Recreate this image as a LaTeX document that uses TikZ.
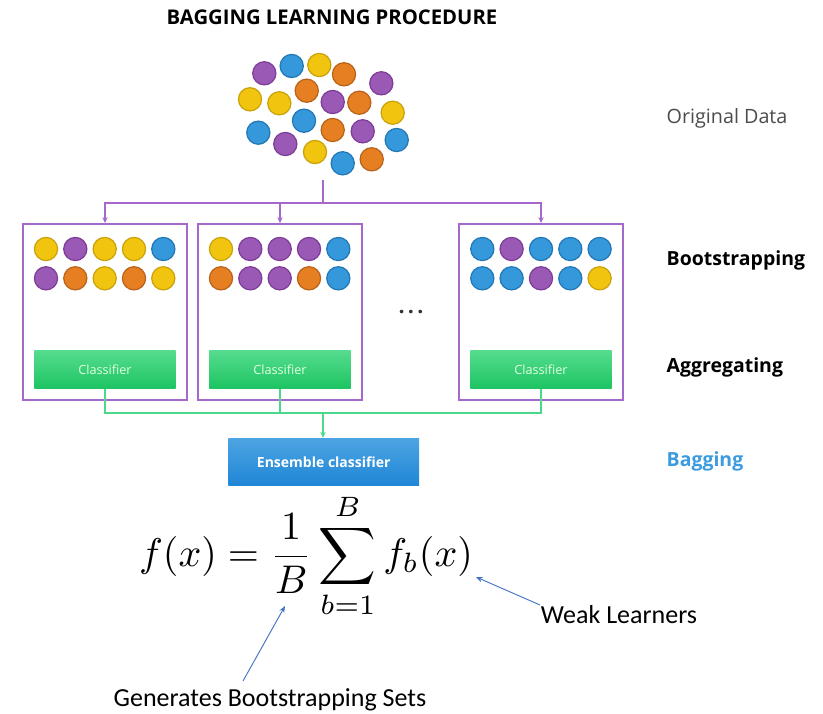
\documentclass[tikz,border=0pt]{standalone}
\usepackage{fontspec}
\setmainfont{Open Sans}
\newfontfamily\calib{Carlito}
\usetikzlibrary{arrows.meta}
\definecolor{yel}{HTML}{F1C40F}\definecolor{yeld}{HTML}{C9A20A}
\definecolor{pur}{HTML}{9B59B6}\definecolor{purd}{HTML}{7D3C98}
\definecolor{ora}{HTML}{E67E22}\definecolor{orad}{HTML}{B9621A}
\definecolor{blu}{HTML}{3498DB}\definecolor{blud}{HTML}{2277B5}
\definecolor{boxpur}{HTML}{A569CB}
\definecolor{lngreen}{HTML}{4CD98A}
\definecolor{grtop}{HTML}{55DC8E}
\definecolor{grbot}{HTML}{1EC462}
\definecolor{entop}{HTML}{4DA4E2}
\definecolor{enbot}{HTML}{1F86D6}
\definecolor{bagblue}{HTML}{3D9BE0}
\definecolor{annblue}{HTML}{4472C4}
\newcommand\ball[3]{\fill[#3,draw=#3d,line width=0.9pt] (#1,#2) circle[radius=11.6];}
\tikzset{
  bagbox/.style={draw=boxpur,line width=1.4pt,minimum width=122.5pt,minimum height=132pt,inner sep=0pt},
  clsbar/.style={top color=grtop,bottom color=grbot,
     minimum width=106pt,minimum height=28.2pt,inner sep=0pt,text=white!88!green,font=\fontsize{9.5}{11}\selectfont},
  ensbox/.style={top color=entop,bottom color=enbot,minimum width=143pt,minimum height=35.8pt,
     inner sep=0pt,text=white,font=\bfseries\fontsize{10.5}{12}\selectfont},
  purline/.style={draw=boxpur,line width=1.4pt},
  grnline/.style={draw=lngreen,line width=1.4pt},
  tip/.style={-{Stealth[length=4.5pt,width=4pt]}},
  rlabel/.style={anchor=west,font=\fontsize{14.8}{17}\selectfont},
  rbold/.style={anchor=west,font=\bfseries\fontsize{14.6}{17}\selectfont},
  ann/.style={draw=annblue,line width=0.7pt,-{Stealth[length=5pt,width=4pt]}},
  annlabel/.style={font=\calib\fontsize{19.5}{22}\selectfont}
}
\begin{document}
\begin{tikzpicture}[x=0.75pt,y=-0.75pt]
\useasboundingbox[fill=white] (0,0) rectangle (823,713);
\node[font=\bfseries\fontsize{15.2}{17}\selectfont] (title) at (332,17) {BAGGING LEARNING PROCEDURE};
% original data cluster
\ball{264.3}{73.3}{pur}\ball{291.7}{66}{blu}\ball{319.3}{65}{yel}\ball{344}{74.3}{ora}\ball{381.3}{83.3}{pur}
\ball{250}{99.3}{yel}\ball{279.3}{103.3}{yel}\ball{306.7}{90.7}{ora}\ball{332.7}{102}{pur}\ball{359.3}{102.7}{ora}
\ball{392.7}{112.7}{yel}\ball{304}{120.7}{blu}\ball{332.7}{130}{ora}\ball{362.7}{131.3}{pur}\ball{258.3}{132.7}{blu}
\ball{285.3}{144}{pur}\ball{396.7}{140}{blu}\ball{315}{152}{yel}\ball{342.7}{163.3}{blu}\ball{371.7}{159.3}{ora}
\coordinate (cl) at (323,180);
\coordinate (split) at (323,203);
% bootstrap boxes
\node[bagbox] (box1) at (105,312) {};
\node[bagbox] (box2) at (280,312) {};
\node[bagbox] (box3) at (541,312) {};
% box1 balls
\ball{46}{249}{yel}\ball{75.3}{249}{pur}\ball{104.7}{249}{yel}\ball{134}{249}{yel}\ball{163.3}{249}{blu}
\ball{46}{278.3}{pur}\ball{75.3}{278.3}{ora}\ball{104.7}{278.3}{yel}\ball{134}{278.3}{ora}\ball{163.3}{278.3}{yel}
% box2 balls
\ball{221}{249}{yel}\ball{250.3}{249}{pur}\ball{279.7}{249}{pur}\ball{309}{249}{pur}\ball{338.3}{249}{blu}
\ball{221}{278.3}{ora}\ball{250.3}{278.3}{pur}\ball{279.7}{278.3}{pur}\ball{309}{278.3}{ora}\ball{338.3}{278.3}{blu}
% box3 balls
\ball{482.3}{249}{blu}\ball{511.6}{249}{pur}\ball{541}{249}{blu}\ball{570.3}{249}{blu}\ball{599.6}{249}{blu}
\ball{482.3}{278.3}{blu}\ball{511.6}{278.3}{blu}\ball{541}{278.3}{pur}\ball{570.3}{278.3}{blu}\ball{599.6}{278.3}{yel}
% classifiers
\node[clsbar] (cls1) at (105,369.5) {Classifier};
\node[clsbar] (cls2) at (280,369.5) {Classifier};
\node[clsbar] (cls3) at (541,369.5) {Classifier};
\node[font=\bfseries\fontsize{16}{18}\selectfont,text=black!80] (dots) at (411,312) {.\hspace{2.5pt}.\hspace{2.5pt}.};
% purple connectors
\draw[purline] (cl) -- (split);
\draw[purline,tip] (split) -| (box1.north);
\draw[purline,tip] (split) -| (box2.north);
\draw[purline,tip] (split) -| (box3.north);
% ensemble
\node[ensbox] (ens) at (323.7,462) {Ensemble classifier};
\coordinate (join) at (323,413);
\draw[grnline] (cls1.south) |- (join);
\draw[grnline] (cls3.south) |- (join);
\draw[grnline] (cls2.south) -- (cls2.south |- join);
\draw[grnline,tip] (join) -- (join |- ens.north);
% right labels
\node[rlabel,text=black!70] (lo) at (662,118) {Original Data};
\node[rbold] (lb) at (662,260) {Bootstrapping};
\node[rbold] (la) at (662,367) {Aggregating};
\node[rbold,text=bagblue] (lg) at (662,461) {Bagging};
% formula
\node[scale=3.0,inner sep=0pt] (formula) at (306,556) {$\displaystyle f(x)=\frac{1}{B}\sum_{b=1}^{B} f_b(x)$};
\node[annlabel] (gen) at (270,700) {Generates Bootstrapping Sets};
\node[annlabel] (weak) at (619,615) {Weak Learners};
\coordinate (genhead) at (285,606);
\coordinate (weakhead) at (476,577);
\draw[ann] (243,681) -- (genhead);
\draw[ann] (540,605) -- (weakhead);
\end{tikzpicture}
\end{document}
